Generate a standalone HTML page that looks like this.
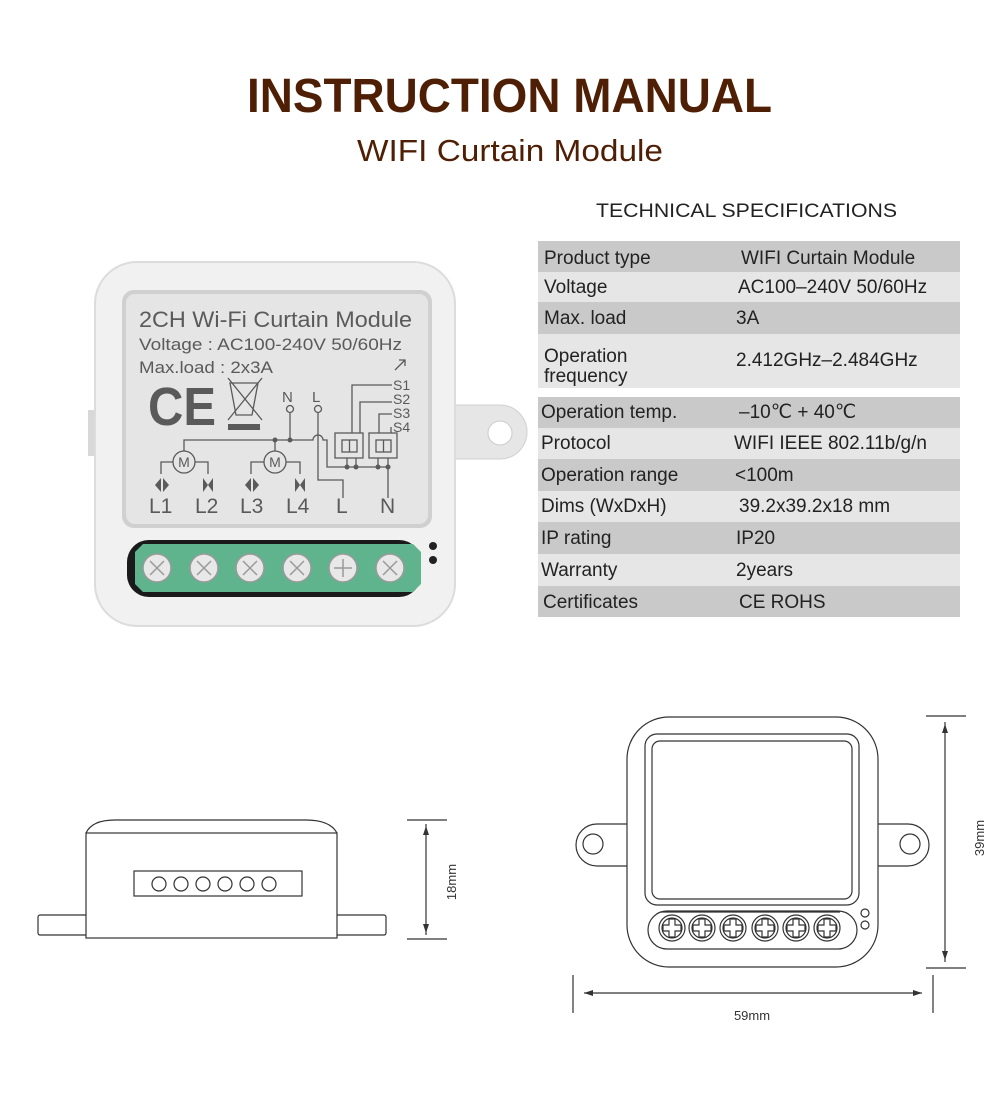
<!DOCTYPE html>
<html><head><meta charset="utf-8"><style>
html,body{margin:0;padding:0;background:#fff}
svg{display:block;font-family:"Liberation Sans",sans-serif}
</style></head><body>
<svg width="1000" height="1100" viewBox="0 0 1000 1100" xmlns="http://www.w3.org/2000/svg">
<rect width="1000" height="1100" fill="#fff"/>
<text x="247" y="112" font-size="48" font-weight="bold" fill="#4f1f05" textLength="525" lengthAdjust="spacingAndGlyphs">INSTRUCTION MANUAL</text>
<text x="357" y="161" font-size="31" fill="#4f1f05" textLength="306" lengthAdjust="spacingAndGlyphs">WIFI Curtain Module</text>
<text x="596" y="217" font-size="19" fill="#222" textLength="301" lengthAdjust="spacingAndGlyphs">TECHNICAL SPECIFICATIONS</text>

<g>
<rect x="538" y="241" width="422" height="31" fill="#c9c9c9"/>
<rect x="538" y="272" width="422" height="30" fill="#e6e6e6"/>
<rect x="538" y="302" width="422" height="32" fill="#c9c9c9"/>
<rect x="538" y="334" width="422" height="54" fill="#e6e6e6"/>
<rect x="538" y="397" width="422" height="31" fill="#c9c9c9"/>
<rect x="538" y="428" width="422" height="31" fill="#e6e6e6"/>
<rect x="538" y="459" width="422" height="32" fill="#c9c9c9"/>
<rect x="538" y="491" width="422" height="31" fill="#e6e6e6"/>
<rect x="538" y="522" width="422" height="32" fill="#c9c9c9"/>
<rect x="538" y="554" width="422" height="32" fill="#e6e6e6"/>
<rect x="538" y="586" width="422" height="31" fill="#c9c9c9"/>
<g font-size="19" fill="#222">
<text x="544" y="264">Product type</text><text x="741" y="264">WIFI Curtain Module</text>
<text x="544" y="293">Voltage</text><text x="738" y="293">AC100–240V 50/60Hz</text>
<text x="544" y="324">Max. load</text><text x="736" y="324">3A</text>
<text x="544" y="362">Operation</text><text x="544" y="382">frequency</text><text x="736" y="366">2.412GHz–2.484GHz</text>
<text x="541" y="418">Operation temp.</text><text x="739" y="418">–10℃ + 40℃</text>
<text x="541" y="449">Protocol</text><text x="734" y="449">WIFI  IEEE 802.11b/g/n</text>
<text x="541" y="481">Operation range</text><text x="735" y="481">&lt;100m</text>
<text x="541" y="512">Dims (WxDxH)</text><text x="739" y="512">39.2x39.2x18 mm</text>
<text x="541" y="544">IP rating</text><text x="736" y="544">IP20</text>
<text x="541" y="576">Warranty</text><text x="736" y="576">2years</text>
<text x="543" y="608">Certificates</text><text x="739" y="608">CE ROHS</text>
</g>
</g>

<g>
<path d="M440 405 H500 a27 27 0 0 1 27 27 a27 27 0 0 1 -27 27 H440 Z" fill="#e6e6e6" stroke="#d0d0d0"/>
<circle cx="500" cy="433" r="12" fill="#fff" stroke="#ccc"/>
<rect x="88" y="410" width="20" height="46" fill="#d8d8d8"/>
<rect x="95" y="262" width="360" height="364" rx="42" fill="#f1f1f1" stroke="#dcdcdc" stroke-width="2"/>
<rect x="122" y="290" width="310" height="238" rx="12" fill="#d0d0d0"/>
<rect x="126" y="294" width="302" height="230" rx="9" fill="#e5e5e5"/>
<g fill="#5a5a5a">
<text x="139" y="327" font-size="22" textLength="273" lengthAdjust="spacingAndGlyphs">2CH Wi-Fi Curtain Module</text>
<text x="139" y="350" font-size="17" textLength="263" lengthAdjust="spacingAndGlyphs">Voltage : AC100-240V 50/60Hz</text>
<text x="139" y="373" font-size="17" textLength="134" lengthAdjust="spacingAndGlyphs">Max.load : 2x3A</text>
<text x="148" y="425" font-size="54" font-weight="bold" textLength="68" lengthAdjust="spacingAndGlyphs">CE</text>
<rect x="228" y="424" width="32" height="6"/>
<text x="282" y="402" font-size="15">N</text><text x="312" y="402" font-size="15">L</text>
<g font-size="14"><text x="393" y="390">S1</text><text x="393" y="404">S2</text><text x="393" y="418">S3</text><text x="393" y="432">S4</text></g>
<g font-size="21"><text x="149" y="513">L1</text><text x="195" y="513">L2</text><text x="240" y="513">L3</text><text x="286" y="513">L4</text><text x="336" y="513">L</text><text x="380" y="513">N</text></g>
<g font-size="14" text-anchor="middle"><text x="184" y="467">M</text><text x="275" y="467">M</text></g>
<path d="M161 478 l-6 7 6 7z M163 478 l6 7 -6 7z M203 478 l5 7 -5 7z M213 478 l-5 7 5 7z M251 478 l-6 7 6 7z M253 478 l6 7 -6 7z M295 478 l5 7 -5 7z M305 478 l-5 7 5 7z"/>
<circle cx="275" cy="440" r="2.5"/><circle cx="290" cy="440" r="2.5"/>
<circle cx="347" cy="467" r="2.5"/><circle cx="356" cy="467" r="2.5"/><circle cx="378" cy="467" r="2.5"/><circle cx="388" cy="467" r="2.5"/>
</g>
<g fill="none" stroke="#5a5a5a" stroke-width="1.3">
<path d="M230 383 l6 32 h16 l6 -32 z M228 378 L262 420 M262 378 L228 420"/>
<circle cx="184" cy="462" r="11"/><circle cx="275" cy="462" r="11"/>
<circle cx="290" cy="409" r="3.5"/><circle cx="318" cy="409" r="3.5"/>
<path d="M184 451 V440 H313 a5 5 0 0 1 10 0 H327 V467 H390"/>
<path d="M275 440 V451 M290 413 V440"/>
<path d="M173 462 H161 V474 M195 462 H208 V474 M264 462 H251 V474 M286 462 H300 V474"/>
<path d="M318 413 V480 H343 V498 M388 467 V498"/>
<rect x="335" y="433" width="28" height="25"/><rect x="342" y="440" width="15" height="12"/><path d="M349.5 440 V452"/>
<rect x="369" y="433" width="28" height="25"/><rect x="376" y="440" width="15" height="12"/><path d="M383.5 440 V452"/>
<path d="M347 458 V467 M356 458 V467 M378 458 V467 M388 458 V467"/>
<path d="M392 385 H352 V433 M392 402 H360 V433 M392 414 H379 V433 M391 427 V433"/>
<path d="M395 370 l10 -10 M399 360 h6 v6"/>
</g>
<rect x="127" y="540" width="294" height="57" rx="22" fill="#1a1a1a"/>
<g fill="#5fb38d">
<path d="M135 552 l8 -8 h270 l8 8 v32 l-8 8 h-270 l-8 -8z"/>
</g>
<g fill="#e8e8e8" stroke="#9a9a9a" stroke-width="1.5">
<circle cx="157" cy="568" r="14"/><circle cx="204" cy="568" r="14"/><circle cx="250" cy="568" r="14"/><circle cx="297" cy="568" r="14"/><circle cx="343" cy="568" r="14"/><circle cx="390" cy="568" r="14"/>
</g>
<g stroke="#999" stroke-width="1.5">
<path d="M150 561 l14 14 M164 561 l-14 14 M197 561 l14 14 M211 561 l-14 14 M243 561 l14 14 M257 561 l-14 14 M290 561 l14 14 M304 561 l-14 14 M343 559 v18 M334 568 h18 M383 561 l14 14 M397 561 l-14 14"/>
</g>
<circle cx="433" cy="546" r="4" fill="#222"/><circle cx="433" cy="560" r="4" fill="#222"/>
</g>

<g fill="none" stroke="#333" stroke-width="1.2">
<path d="M86 833 Q92 820 115 820 H306 Q330 820 337 833"/>
<rect x="86" y="833" width="251" height="105"/>
<path d="M86 915 H40 a2 2 0 0 0 -2 2 V933 a2 2 0 0 0 2 2 H86 M337 915 H384 a2 2 0 0 1 2 2 V933 a2 2 0 0 1 -2 2 H337"/>
<rect x="134" y="871" width="168" height="25"/>
<circle cx="159" cy="884" r="7"/><circle cx="181" cy="884" r="7"/><circle cx="203" cy="884" r="7"/><circle cx="225" cy="884" r="7"/><circle cx="247" cy="884" r="7"/><circle cx="269" cy="884" r="7"/>
<path d="M407 820 H447 M407 939 H447 M426 824 V935"/>
</g>
<path d="M426 826 l-3 9 h6z M426 933 l-3 -9 h6z" fill="#333"/>
<text transform="translate(456 882) rotate(-90)" font-size="13" fill="#333" text-anchor="middle">18mm</text>

<g fill="none" stroke="#333" stroke-width="1.2">
<path d="M627 824 H597 a21 21 0 0 0 0 42 H627 M878 824 H908 a21 21 0 0 1 0 42 H878"/>
<circle cx="593" cy="844" r="10"/><circle cx="910" cy="844" r="10"/>
<rect x="627" y="717" width="251" height="250" rx="42" fill="#fff"/>
<rect x="645" y="734" width="214" height="171" rx="12"/>
<rect x="652" y="741" width="200" height="158" rx="8"/>
<rect x="648" y="911" width="209" height="38" rx="19"/>
<path d="M660 912 H840"/>
<circle cx="865" cy="913" r="4"/><circle cx="865" cy="925" r="4"/>
<path d="M926 716 H966 M926 968 H966 M945 722 V962 M573 975 V1013 M933 975 V1013 M584 993 H922"/>
</g>
<g fill="none" stroke="#333" stroke-width="1.2">
<g id="s"><circle cx="672" cy="928" r="13"/><circle cx="672" cy="928" r="10"/><path d="M669 919 v6 h-6 v6 h6 v6 h6 v-6 h6 v-6 h-6 v-6z"/></g>
<use href="#s" x="30"/><use href="#s" x="61"/><use href="#s" x="93"/><use href="#s" x="124"/><use href="#s" x="155"/>
</g>
<path d="M945 724 l-3 9 h6z M945 960 l-3 -9 h6z M584 993 l9 -3 v6z M922 993 l-9 -3 v6z" fill="#333"/>
<text transform="translate(984 838) rotate(-90)" font-size="13" fill="#333" text-anchor="middle">39mm</text>
<text x="752" y="1020" font-size="13" fill="#333" text-anchor="middle">59mm</text>
</svg>
</body></html>
